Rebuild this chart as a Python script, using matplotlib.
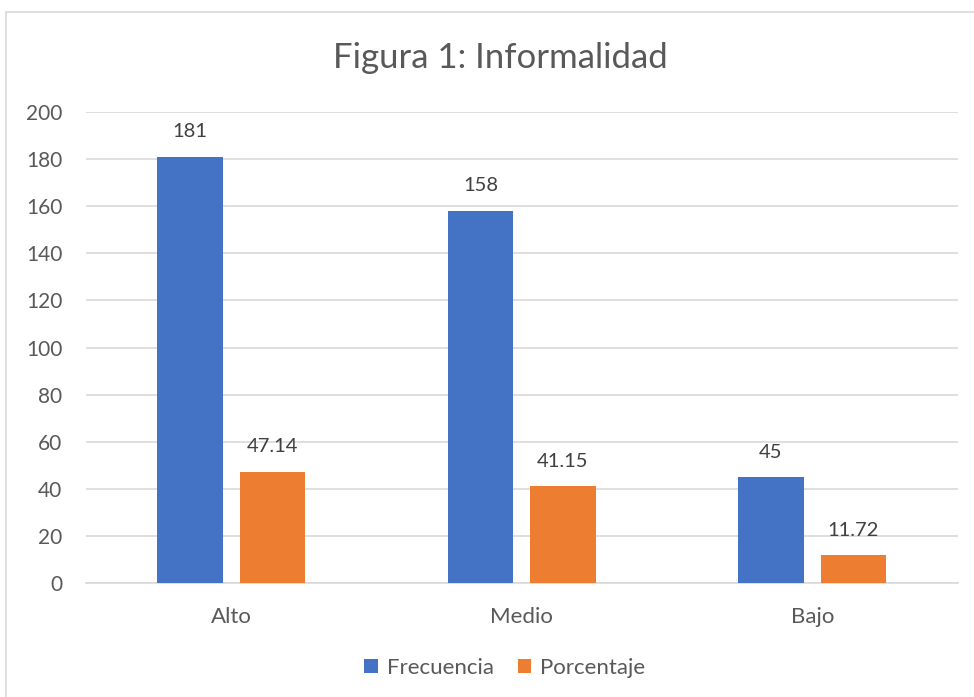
import matplotlib.pyplot as plt
import numpy as np
from matplotlib.patches import Rectangle

categorias = ["Alto", "Medio", "Bajo"]
frecuencia = [181, 158, 45]
porcentaje = [47.14, 41.15, 11.72]
etiquetas_frec = ["181", "158", "45"]
etiquetas_porc = ["47.14", "41.15", "11.72"]

plt.rcParams['font.family'] = ['Lato', 'DejaVu Sans']
gris = "#595959"

fig = plt.figure(figsize=(9.74, 6.97), dpi=100)
# chart border (cropped at right and bottom like the screenshot)
fig.patches.append(Rectangle((6 / 974, -0.1), 1.2, 1.1 - 12 / 697, transform=fig.transFigure,
                             fill=False, edgecolor="#D9D9D9", linewidth=1.2))

ax = fig.add_axes([86 / 974, 1 - 583 / 697, (957.5 - 86) / 974, (583 - 112) / 697])
x = np.arange(len(categorias))
ancho = 0.224
desp = 0.142
b1 = ax.bar(x - desp, frecuencia, ancho, color="#4472C4", label="Frecuencia", zorder=3)
b2 = ax.bar(x + desp, porcentaje, ancho, color="#ED7D31", label="Porcentaje", zorder=3)

for rect, txt in zip(b1, etiquetas_frec):
    ax.annotate(txt, (rect.get_x() + rect.get_width() / 2, rect.get_height()), xytext=(0, 18),
                textcoords="offset points", ha="center", va="center", fontsize=14.5, color="#404040")
for rect, txt in zip(b2, etiquetas_porc):
    ax.annotate(txt, (rect.get_x() + rect.get_width() / 2, rect.get_height()), xytext=(0, 18),
                textcoords="offset points", ha="center", va="center", fontsize=14.5, color="#404040")

ax.set_xlim(-0.5, 2.5)
ax.set_ylim(0, 200)
ax.set_yticks(range(0, 201, 20))
ax.set_xticks(x)
ax.set_xticklabels(categorias)
ax.grid(axis="y", color="#D9D9D9", linewidth=1.2, zorder=0)
for s in ["top", "right", "left"]:
    ax.spines[s].set_visible(False)
ax.spines["bottom"].set_color("#D9D9D9")
ax.spines["bottom"].set_linewidth(1.2)
ax.tick_params(axis="both", length=0, labelcolor=gris)
ax.tick_params(axis="y", pad=17, labelsize=15)
ax.tick_params(axis="x", pad=17, labelsize=16)

fig.text(500 / 974, 1 - 58 / 697, "Figura 1: Informalidad", ha="center", va="center", fontsize=25, color=gris)
fig.legend(loc="center", bbox_to_anchor=(505 / 974, 1 - 668 / 697), ncol=2, frameon=False, fontsize=16,
           handlelength=0.6, handleheight=0.6, handletextpad=0.4, columnspacing=1.1, labelcolor=gris)

fig.savefig("out.png", dpi=100)
